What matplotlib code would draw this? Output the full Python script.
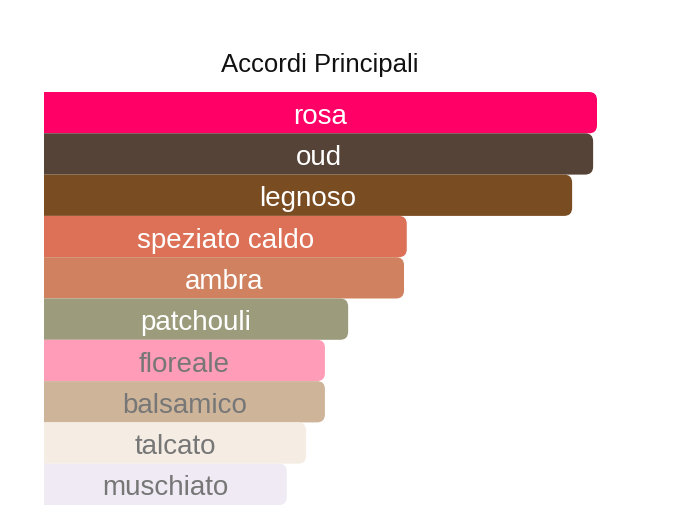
import matplotlib
matplotlib.use("Agg")
import matplotlib.pyplot as plt
from matplotlib.patches import FancyBboxPatch

categories = ["rosa", "oud", "legnoso", "speziato caldo", "ambra", "patchouli",
              "floreale", "balsamico", "talcato", "muschiato"]
values = [100, 99.3, 95.5, 65.6, 65.1, 55.0, 50.8, 50.8, 47.4, 43.9]
colors = ["#FF0066", "#544336", "#7A4C22", "#DD7158", "#D08260", "#9C9C7C",
          "#FF9CB7", "#CEB59A", "#F5EDE3", "#EFEAF3"]
text_colors = ["white"] * 6 + ["#777777"] * 4
title = "Accordi Principali"

W, H = 696, 520
fig = plt.figure(figsize=(W / 100, H / 100), dpi=100)
fig.patch.set_facecolor("white")
x0, x1, y0, y1 = 44, 597, 92, 505
ax = fig.add_axes([x0 / W, (H - y1) / H, (x1 - x0) / W, (y1 - y0) / H])
ax.set_xlim(0, 100)
ax.set_ylim(len(categories) - 0.5, -0.5)
ax.axis("off")

xpp = 100 / (x1 - x0)
ypp = len(categories) / (y1 - y0)
r_px = 8
aspect = ypp / xpp
for i, (cat, v, c, tc) in enumerate(zip(categories, values, colors, text_colors)):
    left = -5
    p = FancyBboxPatch((left, i - 0.5), v - left, 1.0,
                       boxstyle=f"round,pad=0,rounding_size={r_px * xpp}",
                       mutation_aspect=aspect, facecolor=c, edgecolor="none",
                       clip_on=True)
    ax.add_patch(p)
    ax.text(v / 2, i + 0.1, cat, ha="center", va="center", color=tc,
            fontsize=20, family="Liberation Sans")

fig.text(320 / W, 1 - 65 / H, title, ha="center", va="center",
         fontsize=18.5, family="Liberation Sans", color="#111111")

fig.savefig("out.png", dpi=100)
